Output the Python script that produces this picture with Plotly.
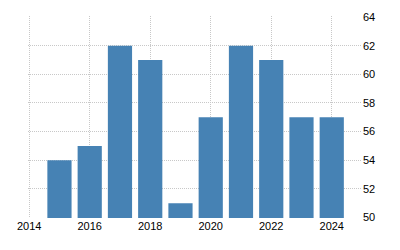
import plotly.graph_objects as go

years = [2015, 2016, 2017, 2018, 2019, 2020, 2021, 2022, 2023, 2024]
values = [54, 55, 62, 61, 51, 57, 62, 61, 57, 57]
x_ticks = [2014, 2016, 2018, 2020, 2022, 2024]
y_ticks = [50, 52, 54, 56, 58, 60, 62, 64]

fig = go.Figure(go.Bar(x=years, y=values, marker_color="#4682B4",
                       marker_line_width=0, width=0.8))
fig.update_layout(
    width=400, height=250,
    margin=dict(l=28, r=38, t=16, b=32),
    paper_bgcolor="white", plot_bgcolor="white",
    font=dict(family="Liberation Sans, Arial, sans-serif", size=11, color="#000"),
    showlegend=False,
    bargap=0.2,
)
fig.update_xaxes(range=[2013.96, 2025], tickvals=x_ticks, showgrid=True,
                 gridcolor="#c8c8c8", griddash="1px,1px", gridwidth=1,
                 zeroline=False, showline=False, ticks="", fixedrange=True)
fig.update_yaxes(range=[49.97, 64.07], tickvals=y_ticks, side="right", showgrid=True,
                 gridcolor="#c8c8c8", griddash="1px,1px", gridwidth=1,
                 zeroline=False, showline=False, ticks="", fixedrange=True)
fig.write_html("out.html")
